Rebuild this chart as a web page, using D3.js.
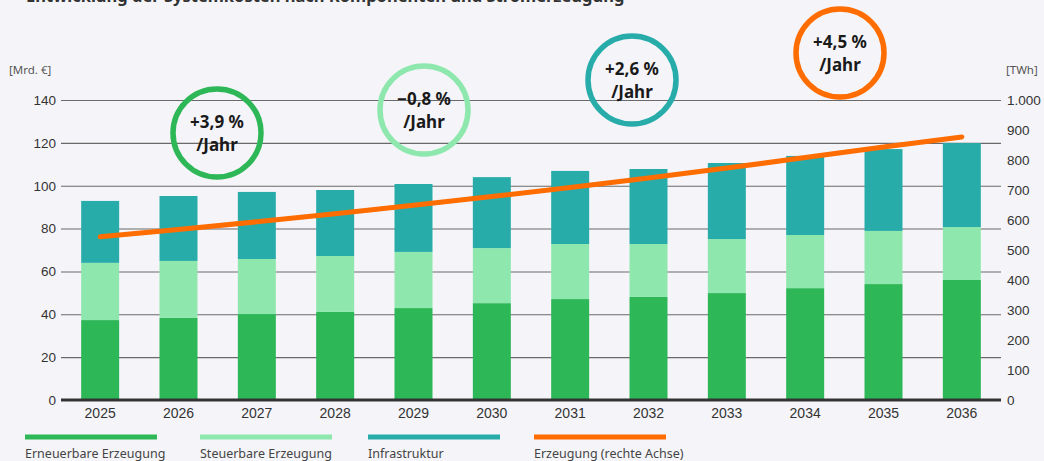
<!DOCTYPE html>
<html>
<head>
<meta charset="utf-8">
<script src="https://cdn.jsdelivr.net/npm/d3@7"></script>
<style>
  body { margin: 0; background: #f5f5f9; }
  svg { display: block; font-family: "Noto Sans", "Open Sans", sans-serif; }
</style>
</head>
<body>
<svg id="chart"></svg>
<script>
// Werte (Schätzungen)
var years = ["2025", "2026", "2027", "2028", "2029", "2030", "2031", "2032", "2033", "2034", "2035", "2036"];
var erneuerbar = [37.3, 38.3, 40.1, 41.1, 42.9, 45.2, 47.1, 48.1, 49.9, 52.2, 54.1, 56.0];
var steuerbar = [26.7, 26.6, 25.7, 26.1, 26.2, 25.7, 25.7, 24.7, 25.2, 24.8, 24.8, 24.7];
var infrastruktur = [28.9, 30.3, 31.3, 30.8, 31.7, 33.1, 34.1, 35.0, 35.5, 36.9, 38.2, 39.2];
var erzeugung = [544, 568, 594, 621, 649, 678, 708, 740, 773, 808, 843, 877];
var leftTicks = [0, 20, 40, 60, 80, 100, 120, 140];
var rightTicks = [0, 100, 200, 300, 400, 500, 600, 700, 800, 900, 1000];
var seriesNames = ["Erneuerbare Erzeugung", "Steuerbare Erzeugung", "Infrastruktur", "Erzeugung (rechte Achse)"];
var seriesColors = ["#2db757", "#8ee8ae", "#27acaa", "#ff6d00"];
var badgeText = ["+3,9 %", "\u22120,8 %", "+2,6 %", "+4,5 %"];

var W = 1044, H = 461;
var plotLeft = 61, plotRight = 1001, plotTop = 100, plotBottom = 400;

var svg = d3.select("#chart").attr("width", W).attr("height", H);

svg.append("text")
    .attr("x", 26).attr("y", 1.5)
    .attr("font-size", 16.5).attr("font-weight", "bold").attr("fill", "#333")
    .text("Entwicklung der Systemkosten nach Komponenten und Stromerzeugung");

var x = d3.scaleBand().domain(years).range([plotLeft, plotRight])
    .paddingInner(0.515).paddingOuter(0.2575);
var y = d3.scaleLinear().domain([0, 140]).range([plotBottom, plotTop]);
var y2 = d3.scaleLinear().domain([0, 1000]).range([plotBottom, plotTop]);

// Gitterlinien + linke Achse
var yAxis = d3.axisLeft(y).tickValues(leftTicks).tickSize(-(plotRight - plotLeft)).tickPadding(5);
var gy = svg.append("g").attr("transform", "translate(" + plotLeft + ",0)").call(yAxis);
gy.select(".domain").remove();
gy.selectAll(".tick line").attr("stroke", "#6a6a6a").attr("stroke-width", 1.1);
gy.selectAll(".tick text").attr("font-size", 13.5).attr("fill", "#333");

var yAxis2 = d3.axisRight(y2).tickValues(rightTicks).tickSize(0).tickPadding(6)
    .tickFormat(function(d) { return d === 1000 ? "1.000" : d; });
var gy2 = svg.append("g").attr("transform", "translate(" + plotRight + ",0)").call(yAxis2);
gy2.select(".domain").remove();
gy2.selectAll(".tick text").attr("font-size", 13.5).attr("fill", "#333");

svg.append("text").attr("x", 9).attr("y", 74).attr("font-size", 11.5).attr("fill", "#555").text("[Mrd. \u20ac]");
svg.append("text").attr("x", 1006).attr("y", 74).attr("font-size", 11.5).attr("fill", "#555").text("[TWh]");

// gestapelte Balken
var rows = years.map(function(yr, i) {
    return { year: yr, e: erneuerbar[i], s: steuerbar[i], inf: infrastruktur[i] };
});
var stack = d3.stack().keys(["e", "s", "inf"])(rows);

svg.append("g").selectAll("g")
    .data(stack)
    .enter().append("g")
    .attr("fill", function(d, i) { return seriesColors[i]; })
    .selectAll("rect")
    .data(function(d) { return d; })
    .enter().append("rect")
    .attr("x", function(d) { return x(d.data.year); })
    .attr("width", x.bandwidth())
    .attr("y", function(d) { return y(d[1]); })
    .attr("height", function(d) { return y(d[0]) - y(d[1]); });

// Nulllinie
svg.append("line")
    .attr("x1", plotLeft).attr("x2", plotRight)
    .attr("y1", y(0)).attr("y2", y(0))
    .attr("stroke", "#333").attr("stroke-width", 3);

// x-Achse
var xAxis = d3.axisBottom(x).tickSize(0).tickPadding(7);
var gx = svg.append("g").attr("transform", "translate(0," + (plotBottom + 1) + ")").call(xAxis);
gx.select(".domain").remove();
gx.selectAll(".tick text").attr("font-size", 14).attr("fill", "#333");

// Erzeugungslinie
var line = d3.line()
    .x(function(d, i) { return x(years[i]) + x.bandwidth() / 2; })
    .y(function(d) { return y2(d); });
svg.append("path")
    .datum(erzeugung)
    .attr("d", line)
    .attr("fill", "none")
    .attr("stroke", seriesColors[3])
    .attr("stroke-width", 5)
    .attr("stroke-linecap", "round");

// Kreise mit Wachstumsraten
var badges = [
    { cx: 217, cy: 133 },
    { cx: 424, cy: 110 },
    { cx: 632, cy: 80 },
    { cx: 840, cy: 53 }
];
var bg = svg.append("g").selectAll("g")
    .data(badges)
    .enter().append("g")
    .attr("transform", function(d) { return "translate(" + d.cx + "," + d.cy + ")"; });
bg.append("circle")
    .attr("r", 44)
    .attr("fill", "none")
    .attr("stroke", function(d, i) { return seriesColors[i]; })
    .attr("stroke-width", 5.5);
bg.append("text")
    .attr("text-anchor", "middle").attr("y", -5)
    .attr("font-size", 17).attr("font-weight", "bold").attr("fill", "#1a1a1a")
    .text(function(d, i) { return badgeText[i]; });
bg.append("text")
    .attr("text-anchor", "middle").attr("y", 18)
    .attr("font-size", 17).attr("font-weight", "bold").attr("fill", "#1a1a1a")
    .text("/Jahr");

// Legende
var legendX = [25, 200, 368, 534];
var lg = svg.append("g").selectAll("g")
    .data(seriesNames)
    .enter().append("g")
    .attr("transform", function(d, i) { return "translate(" + legendX[i] + ",0)"; });
lg.append("rect")
    .attr("x", 0).attr("y", 434.5).attr("width", 132).attr("height", 5)
    .attr("fill", function(d, i) { return seriesColors[i]; });
lg.append("text")
    .attr("x", 0).attr("y", 458)
    .attr("font-size", 12.5).attr("fill", "#444")
    .text(function(d) { return d; });
</script>
</body>
</html>
